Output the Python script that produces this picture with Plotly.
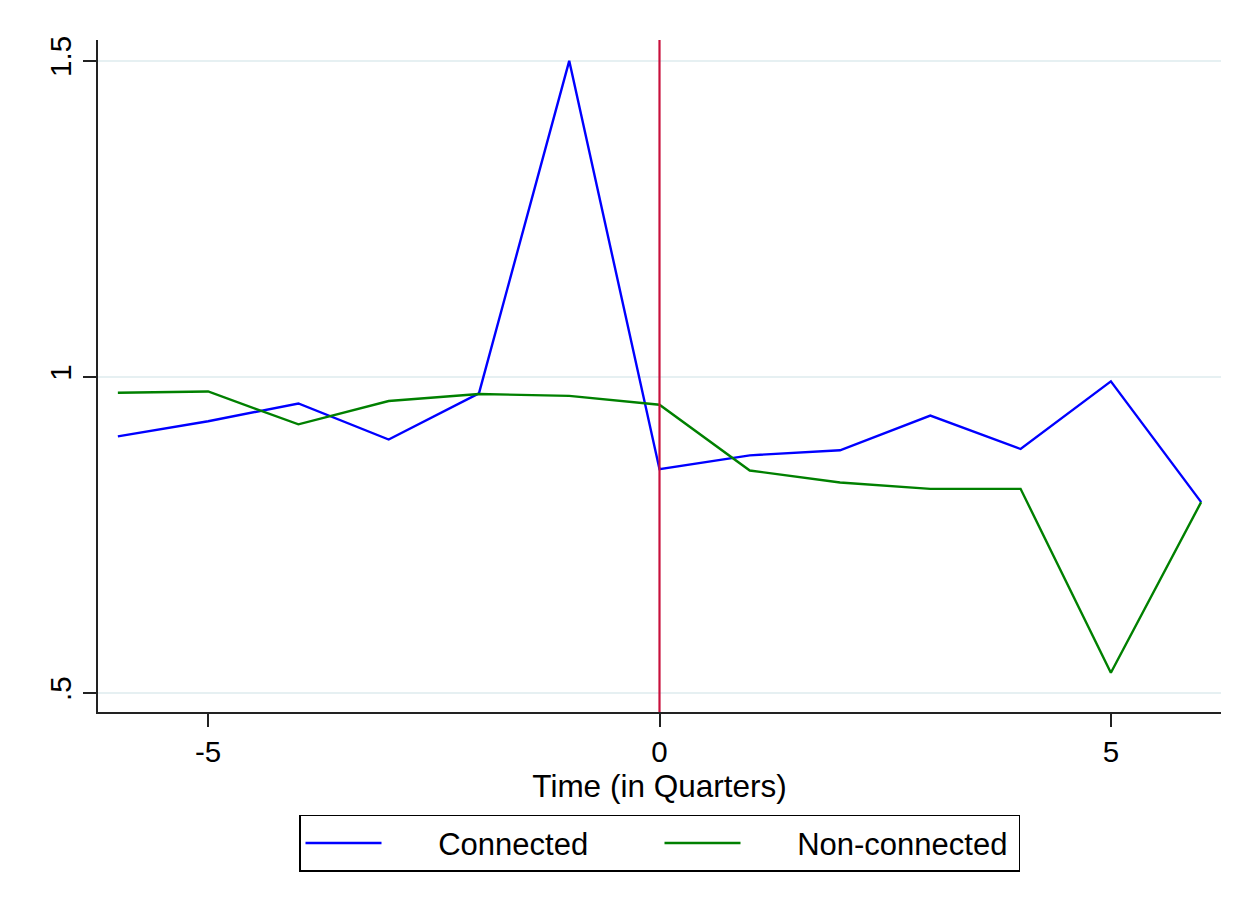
import plotly.graph_objects as go

quarters = [-6, -5, -4, -3, -2, -1, 0, 1, 2, 3, 4, 5, 6]
connected = [0.906, 0.930, 0.958, 0.901, 0.974, 1.500, 0.854, 0.876, 0.884, 0.939, 0.886, 0.993, 0.802]
non_connected = [0.975, 0.977, 0.925, 0.962, 0.973, 0.970, 0.956, 0.852, 0.833, 0.823, 0.823, 0.532, 0.802]

x_ticks = [-5, 0, 5]
x_tick_labels = ["-5", "0", "5"]
y_ticks = [0.5, 1, 1.5]
y_tick_labels = [".5", "1", "1.5"]
series_names = ["Connected", "Non-connected"]

pad = "\u00a0" * 6

fig = go.Figure()
fig.add_trace(go.Scatter(x=quarters, y=connected, mode="lines", name=pad + series_names[0],
                         line=dict(color="#0000ff", width=2.4)))
fig.add_trace(go.Scatter(x=quarters, y=non_connected, mode="lines", name=pad + series_names[1],
                         line=dict(color="#008000", width=2.4)))

fig.add_shape(type="line", x0=0, x1=0, y0=0, y1=1, xref="x", yref="paper",
              line=dict(color="#c8103c", width=2.2), layer="above")

font = dict(family="Liberation Sans, Arial, sans-serif", size=30, color="black")

fig.update_layout(
    width=1243, height=910,
    margin=dict(l=90, r=30, t=32, b=206),
    paper_bgcolor="white", plot_bgcolor="white",
    font=font,
    showlegend=True,
    legend=dict(orientation="h", x=0.5, xanchor="center", y=-0.153, yanchor="top",
                bordercolor="black", borderwidth=1.5, font=dict(size=31),
                itemwidth=76, entrywidth=268),
    xaxis=dict(range=[-6.22, 6.22], tickvals=x_ticks, ticktext=x_tick_labels,
               showgrid=False, zeroline=False,
               showline=True, linecolor="#222", linewidth=2, ticks="outside",
               ticklen=13, tickwidth=1.5, tickcolor="#222",
               title=dict(text="Time (in Quarters)", standoff=0, font=dict(size=31.5)),
               tickfont=dict(size=29.5)),
    yaxis=dict(range=[0.470, 1.533], tickvals=y_ticks, ticktext=y_tick_labels,
               showgrid=True, gridcolor="#e6f0f2", gridwidth=2, zeroline=False,
               showline=True, linecolor="#222", linewidth=2, ticks="outside",
               ticklen=13, tickwidth=1.5, tickcolor="#222", tickangle=-90,
               tickfont=dict(size=29.5)),
)

fig.write_html("out.html")
